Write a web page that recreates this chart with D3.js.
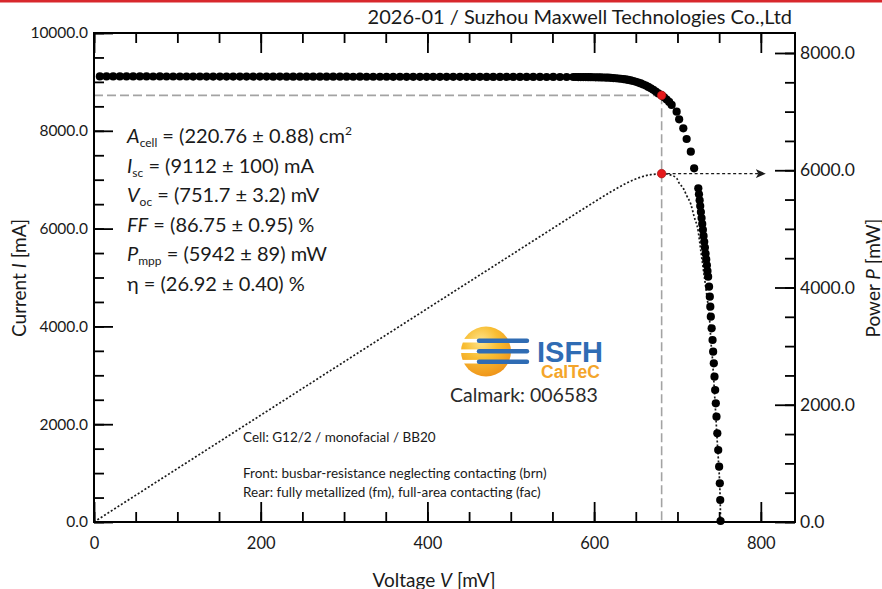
<!DOCTYPE html>
<html>
<head>
<meta charset="utf-8">
<script src="https://cdn.jsdelivr.net/npm/d3@7"></script>
<style>
  body { margin: 0; background: #fff; }
  svg { display: block; font-family: Lato, "Open Sans", sans-serif; }
</style>
</head>
<body>
<svg id="chart" width="882" height="589"></svg>
<script>
// ---- measured I-V points ----
const voltage_mV = [
  7, 15, 23, 31, 39, 47, 55, 63, 71, 79, 87, 95, 103, 111, 119, 127, 135, 143, 151, 159,
  167, 175, 183, 191, 199, 207, 215, 223, 231, 239, 247, 255, 263, 271, 279, 287, 295, 303, 311, 319,
  327, 335, 343, 351, 359, 367, 375, 383, 391, 399, 407, 415, 423, 431, 439, 447, 455, 463, 471, 479,
  487, 495, 503, 511, 519, 527, 535, 543, 551, 559, 567,
  575, 578, 581, 584, 587, 590, 593, 596, 599, 602, 605, 608, 611, 614, 617, 620, 623, 626, 629, 632,
  635, 638, 641, 644, 647, 650, 653, 656, 659, 662, 665, 668, 671, 674, 677,
  681, 684, 687, 690, 693, 699, 702, 707, 711, 716, 720,
  725.0, 725.8, 726.6, 727.3, 728.1, 728.9, 729.7, 730.5, 731.3, 732.1, 732.9, 733.7, 734.5, 735.3, 736.0, 736.8,
  737.9, 738.8, 739.4, 740.0, 741.0, 742.1, 742.8, 743.6, 744.4, 745.2, 746.0, 746.8, 747.8, 748.9, 750.0,
  750.8, 751.3, 751.7
];
const current_mA = [
  9112, 9112, 9112, 9111, 9112, 9111, 9111, 9111, 9110, 9111, 9110, 9110, 9110, 9110, 9109, 9110, 9109, 9109, 9109, 9109,
  9108, 9109, 9108, 9108, 9108, 9108, 9107, 9108, 9107, 9107, 9107, 9107, 9106, 9107, 9106, 9106, 9106, 9106, 9105, 9106,
  9105, 9105, 9105, 9105, 9104, 9105, 9104, 9104, 9104, 9104, 9103, 9104, 9103, 9103, 9103, 9103, 9102, 9103, 9102, 9102,
  9102, 9102, 9101, 9102, 9101, 9101, 9101, 9100, 9101, 9100, 9100,
  9100, 9100, 9099, 9099, 9098, 9098, 9097, 9096, 9095, 9094, 9093, 9092, 9090, 9088, 9086, 9083, 9079, 9075, 9070, 9064,
  9058, 9050, 9041, 9030, 9018, 9003, 8987, 8968, 8947, 8924, 8898, 8869, 8838, 8803, 8765,
  8725, 8685, 8640, 8590, 8530, 8391, 8235, 8051, 7832, 7573, 7233,
  6824, 6702, 6580, 6462, 6338, 6215, 6096, 5975, 5851, 5730, 5611, 5489, 5370, 5250, 5133, 5016,
  4812, 4607, 4403, 4198, 3961, 3722, 3483, 3245, 2971, 2699, 2427, 2154, 1813, 1472, 1131,
  791, 450, 20
];

// maximum power point
const mppVoltage = 681;
const mppCurrent = 8725;
const mppPower = 5942;
const arrowEndVoltage = 806;

// axis ranges and ticks
const voltageDomain = [0, 841];
const currentDomain = [0, 10000];
const powerDomain = [0, 8341];
const voltageMajor = [0, 200, 400, 600, 800];
const voltageMinor = d3.range(0, 801, 50);
const currentMajor = [0, 2000, 4000, 6000, 8000, 10000];
const currentMinor = d3.range(0, 10001, 500);
const powerMajor = [0, 2000, 4000, 6000, 8000];
const powerMinor = d3.range(0, 8001, 500);

// result block
const resultLines = [
  [{t: "A", i: true}, {t: "cell", sub: true}, {t: " = (220.76 ± 0.88) cm"}, {t: "2", sup: true}],
  [{t: "I", i: true}, {t: "sc", sub: true}, {t: " = (9112 ± 100) mA"}],
  [{t: "V", i: true}, {t: "oc", sub: true}, {t: " = (751.7 ± 3.2) mV"}],
  [{t: "FF", i: true}, {t: " = (86.75 ± 0.95) %"}],
  [{t: "P", i: true}, {t: "mpp", sub: true}, {t: " = (5942 ± 89) mW"}],
  [{t: "η = (26.92 ± 0.40) %"}]
];
const cellLines = [
  "Cell: G12/2 / monofacial / BB20",
  "",
  "Front: busbar-resistance neglecting contacting (brn)",
  "Rear: fully metallized (fm), full-area contacting (fac)"
];
const headerText = "2026-01 / Suzhou Maxwell Technologies Co.,Ltd";
const calmarkText = "Calmark: 006583";

// ---- layout ----
const W = 882, H = 589;
const plot = {left: 94, right: 795, top: 33, bottom: 522};
const svg = d3.select("#chart");

const x = d3.scaleLinear().domain(voltageDomain).range([plot.left, plot.right]);
const yI = d3.scaleLinear().domain(currentDomain).range([plot.bottom, plot.top]);
const yP = d3.scaleLinear().domain(powerDomain).range([plot.bottom, plot.top]);

const ink = "#1a1a1a";

// top red rule
svg.append("rect").attr("x", 0).attr("y", 0).attr("width", W).attr("height", 2.5).attr("fill", "#d8282c");

// header
svg.append("text").attr("x", 792).attr("y", 24).attr("text-anchor", "end")
  .attr("font-size", 20).attr("fill", ink).text(headerText);

const points = voltage_mV.map((v, k) => ({v, i: current_mA[k], p: v * current_mA[k] / 1000}));

// guide lines to the maximum power point
const guides = svg.append("g").attr("stroke", "#a3a3a3").attr("stroke-width", 1.6)
  .attr("stroke-dasharray", "9,4").attr("fill", "none");
guides.append("line").attr("x1", x(0)).attr("x2", x(mppVoltage))
  .attr("y1", yI(mppCurrent)).attr("y2", yI(mppCurrent));
guides.append("line").attr("x1", x(mppVoltage)).attr("x2", x(mppVoltage))
  .attr("y1", yI(mppCurrent)).attr("y2", yI(0));

// power curve P = V * I
const powerLine = d3.line().x(d => x(d.v)).y(d => yP(d.p)).curve(d3.curveMonotoneX);
svg.append("path").datum([{v: 0, p: 0}].concat(points))
  .attr("d", powerLine).attr("fill", "none").attr("stroke", ink)
  .attr("stroke-width", 1.7).attr("stroke-dasharray", "2,2");

// arrow pointing to the power axis
const defs = svg.append("defs");
defs.append("marker").attr("id", "arrowHead").attr("markerUnits", "userSpaceOnUse")
  .attr("markerWidth", 11).attr("markerHeight", 10).attr("refX", 10).attr("refY", 4.5)
  .attr("orient", "auto")
  .append("path").attr("d", "M0,0 L10,4.5 L0,9 L2.5,4.5 Z").attr("fill", ink);
svg.append("line").attr("x1", x(mppVoltage)).attr("x2", x(arrowEndVoltage))
  .attr("y1", yP(mppPower)).attr("y2", yP(mppPower))
  .attr("stroke", ink).attr("stroke-width", 1.4).attr("stroke-dasharray", "3,2.5")
  .attr("marker-end", "url(#arrowHead)");

// I-V points
svg.append("g").selectAll("circle").data(points).join("circle")
  .attr("cx", d => x(d.v)).attr("cy", d => yI(d.i)).attr("r", 4.1).attr("fill", "#000");

// maximum power point markers
svg.append("circle").attr("cx", x(mppVoltage)).attr("cy", yI(mppCurrent)).attr("r", 4.3)
  .attr("fill", "#e5191b").attr("stroke", "#9a1010").attr("stroke-width", 0.6);
svg.append("circle").attr("cx", x(mppVoltage)).attr("cy", yP(mppPower)).attr("r", 4.3)
  .attr("fill", "#e5191b").attr("stroke", "#9a1010").attr("stroke-width", 0.6);

// ---- axes ----
const fmt1 = d3.format(".1f");
function styleAxis(size) {
  return g => {
    g.select(".domain").remove();
    g.selectAll(".tick line").attr("stroke", "#000").attr("stroke-width", 1.8);
    g.selectAll(".tick text").attr("fill", ink).attr("font-size", size).attr("font-family", "Lato, sans-serif");
  };
}
// bottom
svg.append("g").attr("transform", `translate(0,${plot.bottom})`)
  .call(d3.axisBottom(x).tickValues(voltageMinor).tickSizeInner(-10).tickSizeOuter(0).tickFormat(""))
  .call(styleAxis(16));
svg.append("g").attr("transform", `translate(0,${plot.bottom})`)
  .call(d3.axisBottom(x).tickValues(voltageMajor).tickSizeInner(-20).tickSizeOuter(0)
    .tickPadding(15).tickFormat(d3.format("d")))
  .call(styleAxis(16.5));
// top
svg.append("g").attr("transform", `translate(0,${plot.top})`)
  .call(d3.axisTop(x).tickValues(voltageMinor).tickSizeInner(-10).tickSizeOuter(0).tickFormat(""))
  .call(styleAxis(16));
svg.append("g").attr("transform", `translate(0,${plot.top})`)
  .call(d3.axisTop(x).tickValues(voltageMajor).tickSizeInner(-20).tickSizeOuter(0).tickFormat(""))
  .call(styleAxis(16));
// left
svg.append("g").attr("transform", `translate(${plot.left},0)`)
  .call(d3.axisLeft(yI).tickValues(currentMinor).tickSizeInner(-10).tickSizeOuter(0).tickFormat(""))
  .call(styleAxis(16));
svg.append("g").attr("transform", `translate(${plot.left},0)`)
  .call(d3.axisLeft(yI).tickValues(currentMajor).tickSizeInner(-19).tickSizeOuter(0)
    .tickPadding(6).tickFormat(fmt1))
  .call(styleAxis(15.5));
// right
svg.append("g").attr("transform", `translate(${plot.right},0)`)
  .call(d3.axisRight(yP).tickValues(powerMinor).tickSizeInner(-10).tickSizeOuter(0).tickFormat(""))
  .call(styleAxis(16));
svg.append("g").attr("transform", `translate(${plot.right},0)`)
  .call(d3.axisRight(yP).tickValues(powerMajor).tickSizeInner(-20).tickSizeOuter(0)
    .tickPadding(5).tickFormat(fmt1))
  .call(styleAxis(17.5));

// frame
svg.append("rect").attr("x", plot.left).attr("y", plot.top)
  .attr("width", plot.right - plot.left).attr("height", plot.bottom - plot.top)
  .attr("fill", "none").attr("stroke", "#000").attr("stroke-width", 2);

// axis titles
function richText(sel, parts) {
  parts.forEach(p => {
    const ts = sel.append("tspan").text(p.t);
    if (p.i) ts.attr("font-style", "italic");
  });
}
const xt = svg.append("text").attr("x", 434).attr("y", 587).attr("text-anchor", "middle")
  .attr("font-size", 19).attr("fill", ink);
richText(xt, [{t: "Voltage "}, {t: "V", i: true}, {t: " [mV]"}]);
const ylt = svg.append("text").attr("transform", "translate(26,278) rotate(-90)")
  .attr("text-anchor", "middle").attr("font-size", 19).attr("fill", ink);
richText(ylt, [{t: "Current "}, {t: "I", i: true}, {t: " [mA]"}]);
const yrt = svg.append("text").attr("transform", "translate(880,278) rotate(-90)")
  .attr("text-anchor", "middle").attr("font-size", 19).attr("fill", ink);
richText(yrt, [{t: "Power "}, {t: "P", i: true}, {t: " [mW]"}]);

// result block
const rb = svg.append("g").attr("fill", ink).attr("font-size", 20);
resultLines.forEach((parts, k) => {
  const t = rb.append("text").attr("x", 127).attr("y", 143 + k * 29.6);
  let shifted = 0;
  parts.forEach(p => {
    const ts = t.append("tspan").text(p.t);
    if (p.i) ts.attr("font-style", "italic");
    if (p.sub) { ts.attr("font-size", 12).attr("dy", 4 - shifted); shifted = 4; }
    else if (p.sup) { ts.attr("font-size", 12).attr("dy", -8 - shifted); shifted = -8; }
    else if (shifted) { ts.attr("dy", -shifted); shifted = 0; }
  });
});

// cell description
const cd = svg.append("g").attr("fill", ink).attr("font-size", 13.5);
cellLines.forEach((line, k) => {
  if (line) cd.append("text").attr("x", 243).attr("y", 442 + k * 18.2).text(line);
});

// ---- ISFH CalTeC logo ----
const sunGrad = defs.append("radialGradient").attr("id", "sunGrad")
  .attr("cx", "40%").attr("cy", "30%").attr("r", "75%");
sunGrad.append("stop").attr("offset", "0%").attr("stop-color", "#fde48c");
sunGrad.append("stop").attr("offset", "45%").attr("stop-color", "#f8be33");
sunGrad.append("stop").attr("offset", "100%").attr("stop-color", "#ee9118");
const logo = svg.append("g");
logo.append("circle").attr("cx", 486).attr("cy", 351.5).attr("r", 25).attr("fill", "url(#sunGrad)");
[340.7, 351.2, 361.7].forEach(yy => {
  logo.append("line").attr("x1", 458).attr("x2", 479).attr("y1", yy).attr("y2", yy)
    .attr("stroke", "#fff").attr("stroke-width", 3.6);
  logo.append("line").attr("x1", 479).attr("x2", 527).attr("y1", yy).attr("y2", yy)
    .attr("stroke", "#2f6cb4").attr("stroke-width", 4.4).attr("stroke-linecap", "round");
});
logo.append("text").attr("x", 537).attr("y", 362).attr("font-family", "Liberation Sans, Arial, sans-serif")
  .attr("font-weight", "bold").attr("font-size", 29).attr("fill", "#2f6cb4").text("ISFH");
logo.append("text").attr("x", 541).attr("y", 378).attr("font-family", "Liberation Sans, Arial, sans-serif")
  .attr("font-weight", "bold").attr("font-size", 17.5).attr("fill", "#f4a52a").text("CalTeC");
svg.append("text").attr("x", 450).attr("y", 402).attr("font-size", 19.5).attr("fill", "#2a2a2a").text(calmarkText);
</script>
</body>
</html>
